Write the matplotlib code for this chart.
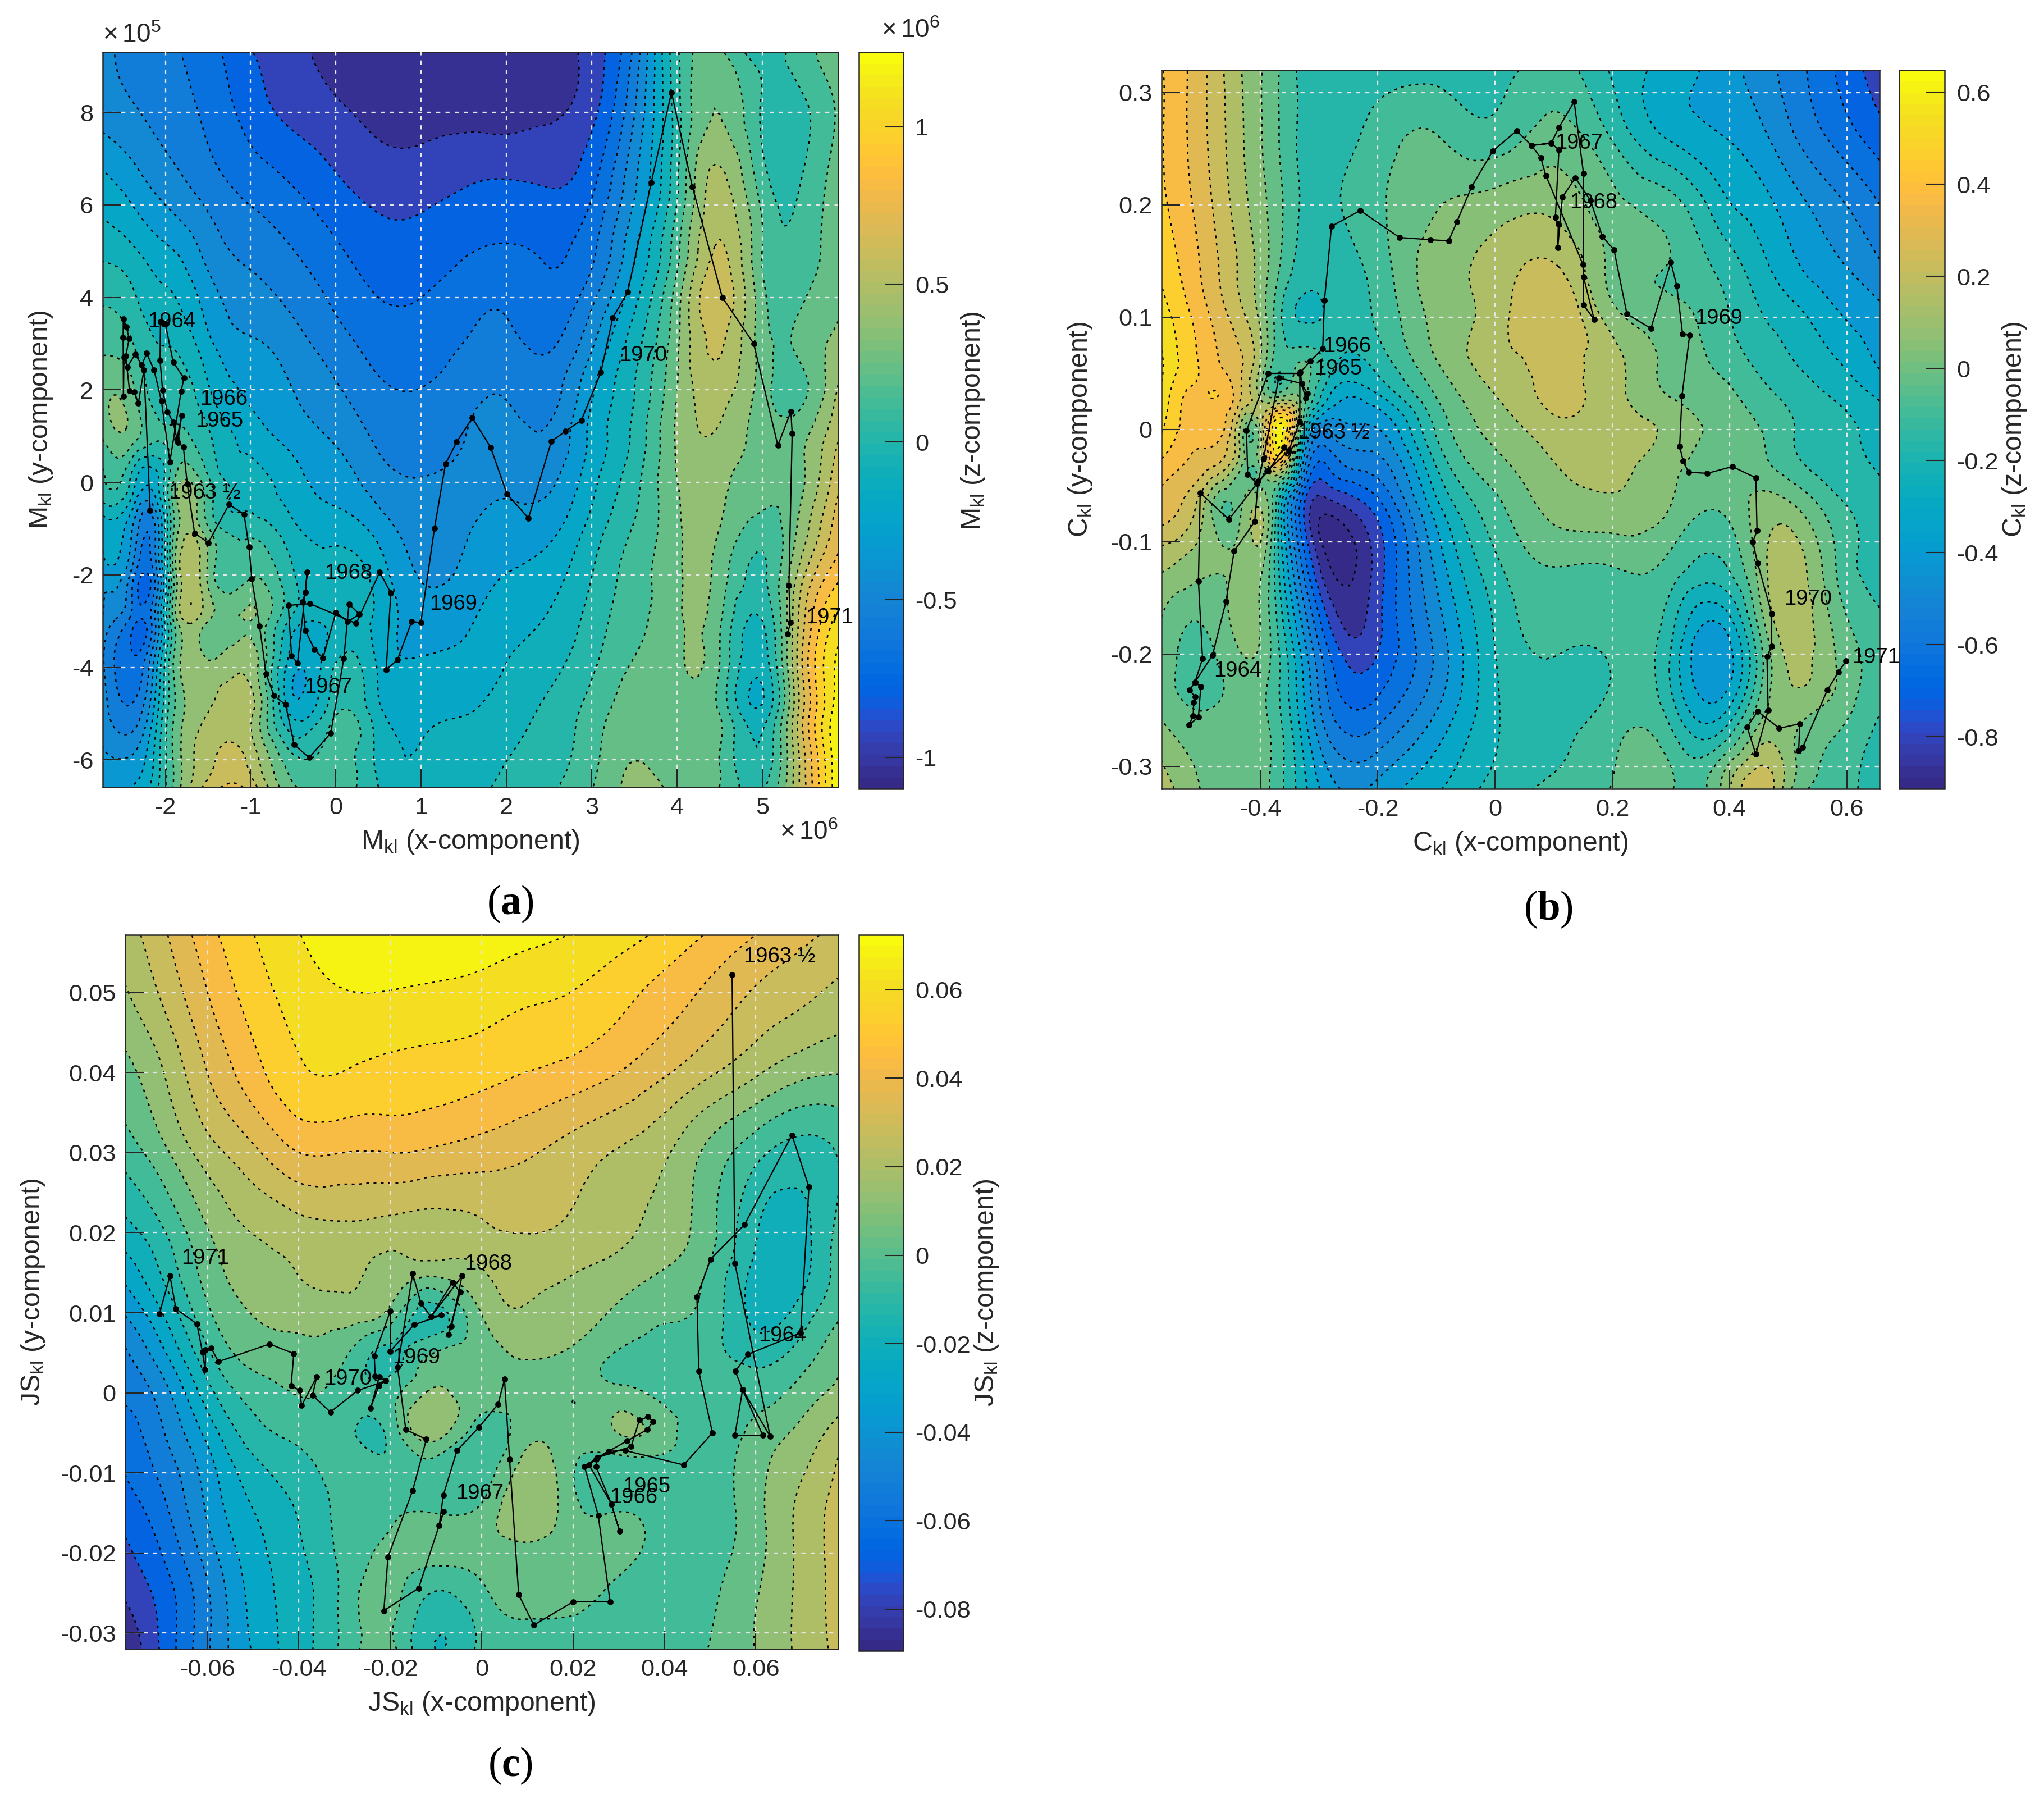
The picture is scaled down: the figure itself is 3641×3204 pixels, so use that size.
import numpy as np
import matplotlib
matplotlib.use("Agg")
import matplotlib.pyplot as plt
import matplotlib.tri as mtri
from matplotlib.cm import ScalarMappable
from matplotlib.colors import ListedColormap, Normalize

plt.rcParams["font.family"] = ["Liberation Sans", "DejaVu Sans"]
plt.rcParams["mathtext.fontset"] = "custom"
plt.rcParams["mathtext.rm"] = "Liberation Sans"
plt.rcParams["mathtext.bf"] = "Liberation Serif:bold"
plt.rcParams["mathtext.default"] = "rm"

W, H = 3641, 3204
DARK = "#262626"

# parula, 64 steps
parula = ListedColormap([
    (0.2081, 0.1663, 0.5292), (0.2116, 0.1898, 0.5777), (0.2123, 0.2138, 0.6270), (0.2081, 0.2386, 0.6771),
    (0.1959, 0.2645, 0.7279), (0.1707, 0.2919, 0.7792), (0.1253, 0.3242, 0.8303), (0.0591, 0.3598, 0.8683),
    (0.0117, 0.3875, 0.8820), (0.0060, 0.4086, 0.8828), (0.0165, 0.4266, 0.8786), (0.0329, 0.4430, 0.8720),
    (0.0498, 0.4586, 0.8641), (0.0629, 0.4737, 0.8554), (0.0723, 0.4887, 0.8467), (0.0779, 0.5040, 0.8384),
    (0.0793, 0.5200, 0.8312), (0.0749, 0.5375, 0.8263), (0.0641, 0.5570, 0.8240), (0.0488, 0.5772, 0.8228),
    (0.0343, 0.5966, 0.8199), (0.0265, 0.6137, 0.8135), (0.0239, 0.6287, 0.8038), (0.0231, 0.6418, 0.7913),
    (0.0228, 0.6535, 0.7768), (0.0267, 0.6642, 0.7607), (0.0384, 0.6743, 0.7436), (0.0590, 0.6838, 0.7254),
    (0.0843, 0.6928, 0.7062), (0.1133, 0.7015, 0.6859), (0.1453, 0.7098, 0.6646), (0.1801, 0.7177, 0.6424),
    (0.2178, 0.7250, 0.6193), (0.2586, 0.7317, 0.5954), (0.3022, 0.7376, 0.5712), (0.3482, 0.7424, 0.5473),
    (0.3953, 0.7459, 0.5244), (0.4420, 0.7481, 0.5033), (0.4871, 0.7491, 0.4840), (0.5300, 0.7491, 0.4661),
    (0.5709, 0.7485, 0.4494), (0.6099, 0.7473, 0.4337), (0.6473, 0.7456, 0.4188), (0.6834, 0.7435, 0.4044),
    (0.7184, 0.7411, 0.3905), (0.7525, 0.7384, 0.3768), (0.7858, 0.7356, 0.3633), (0.8185, 0.7327, 0.3498),
    (0.8507, 0.7299, 0.3360), (0.8824, 0.7274, 0.3217), (0.9139, 0.7258, 0.3063), (0.9450, 0.7261, 0.2886),
    (0.9739, 0.7314, 0.2666), (0.9938, 0.7455, 0.2403), (0.9990, 0.7653, 0.2164), (0.9955, 0.7861, 0.1967),
    (0.9880, 0.8066, 0.1794), (0.9789, 0.8271, 0.1633), (0.9697, 0.8481, 0.1475), (0.9626, 0.8705, 0.1309),
    (0.9589, 0.8949, 0.1132), (0.9598, 0.9218, 0.0948), (0.9661, 0.9514, 0.0755), (0.9763, 0.9831, 0.0538)])

# panel (a): x in 1e6, y in 1e5, z in 1e6
a_xgrid = [-2.734, -2.4, -2.15, -1.9, -1.5, -1, -0.5, 0, 0.5, 1, 1.5, 2, 2.5, 3, 3.5, 4, 4.5, 5, 5.4, 5.887]
a_ygrid = [9.3, 8, 6.5, 5, 4, 3, 2, 1, 0, -1, -2, -3, -4, -5, -6, -6.59]
a_z = [
    [-.5, -.54, -.58, -.62, -.7, -.86, -.94, -1.05, -1.09, -1.09, -1.09, -1.05, -1.05, -.93, -.6, .05, .2, 0, .12, .22],
    [-.45, -.5, -.54, -.58, -.66, -.8, -.9, -.96, -1.02, -1.03, -1.02, -1.03, -1.0, -.9, -.52, .02, .3, .05, .02, .2],
    [-.25, -.34, -.42, -.48, -.58, -.68, -.76, -.85, -.92, -.92, -.88, -.86, -.88, -.78, -.42, .05, .45, .12, .05, .25],
    [-.08, -.14, -.22, -.28, -.44, -.55, -.63, -.73, -.81, -.81, -.76, -.74, -.76, -.66, -.3, .15, .55, .18, .1, .25],
    [.05, -.02, -.12, -.16, -.34, -.47, -.55, -.66, -.75, -.75, -.69, -.66, -.72, -.55, -.2, .25, .62, .22, .15, .28],
    [.15, .08, -.04, -.06, -.25, -.38, -.47, -.58, -.68, -.69, -.63, -.6, -.65, -.42, -.1, .28, .55, .24, .2, .33],
    [.27, .22, .03, .02, -.15, -.3, -.4, -.5, -.61, -.63, -.57, -.53, -.57, -.3, -.05, .3, .47, .24, .14, .43],
    [.2, .25, .1, .1, -.03, -.22, -.33, -.42, -.54, -.57, -.52, -.47, -.5, -.25, -.02, .32, .4, .25, .25, .52],
    [.05, -.08, -.25, .2, .1, -.1, -.24, -.33, -.46, -.51, -.47, -.42, -.42, -.2, .03, .3, .33, .22, .25, .62],
    [-.25, -.38, -.58, .18, .2, .02, -.14, -.22, -.33, -.46, -.42, -.35, -.32, -.12, .08, .28, .3, .13, .3, .72],
    [-.35, -.55, -.68, .2, .28, .17, -.04, -.1, -.22, -.41, -.37, -.28, -.22, -.05, .13, .28, .25, .05, .42, .85],
    [-.42, -.68, -.6, .2, .3, .3, -.1, -.12, -.2, -.33, -.3, -.22, -.15, 0, .15, .28, .2, -.05, .5, 1.05],
    [-.5, -.72, -.42, .2, .32, .38, -.25, -.03, -.18, -.26, -.25, -.16, -.08, .05, .2, .28, .18, -.12, .52, 1.15],
    [-.45, -.6, -.3, .18, .42, .45, -.2, .06, -.13, -.2, -.17, -.1, -.02, .12, .24, .25, .18, -.12, .5, 1.2],
    [-.38, -.38, -.18, .2, .5, .5, .1, .12, -.08, -.15, -.1, -.05, .02, .15, .3, .25, .18, -.02, .48, 1.22],
    [-.36, -.28, -.13, .2, .58, .6, .2, .13, -.05, -.1, -.08, -.02, .05, .18, .33, .28, .18, .05, .48, 1.22],
]
a_path_x = [-2.178, -2.251, -2.317, -2.365, -2.42, -2.464, -2.425, -2.458, -2.493, -2.495, -2.491, -2.486, -2.447,
            -2.354, -2.277, -2.218, -2.132, -2.046, -1.947, -1.815, -1.782, -1.908, -2.002, -2.057, -2.062, -2.033,
            -1.974, -1.908, -1.864, -1.809, -1.853, -1.789, -1.743, -1.657, -1.496, -1.254, -1.078, -1.019, -.987,
            -.895, -.819, -.727, -.589, -.49, -.314, -.061, .092, .153, .275, .138, 0, -.153, -.252, -.36, -.39,
            -.36, -.337, -.36, -.451, -.52, -.559, -.306, .237, .513, .643, .589, .719, .888, .995, 1.155, 1.285,
            1.415, 1.599, 1.813, 2.005, 2.257, 2.525, 2.686, 2.877, 3.106, 3.244, 3.42, 3.696, 3.933, 4.178, 4.529,
            4.897, 5.18, 5.333, 5.348, 5.31, 5.325, 5.295]
a_path_y = [-.606, 2.432, 1.713, 1.96, 1.98, 2.727, 3.111, 3.366, 3.535, 3.131, 1.859, 2.707, 2.493, 2.768, 2.537,
            2.788, 2.424, 1.758, .444, 1.972, 2.255, 2.598, 3.442, 3.475, 2.634, 1.992, 1.523, 1.301, .937, 1.442,
            .861, .768, -.04, -1.099, -1.305, -.477, -.687, -1.394, -2.09, -3.11, -4.14, -4.61, -4.81, -5.67, -5.95,
            -5.42, -3.81, -2.63, -2.85, -3.01, -2.81, -3.8, -3.61, -3.2, -2.58, -2.38, -1.94, -2.38, -3.91, -3.75,
            -2.66, -2.62, -3.05, -1.94, -2.39, -4.05, -3.84, -3.01, -3.03, -.99, .405, .873, 1.392, .759, -.253,
            -.772, .886, 1.101, 1.342, 2.38, 3.557, 4.114, 6.481, 8.43, 6.392, 4, 3, .797, 1.532, 1.063, -2.228,
            -3.038, -3.278]
a_years = ["1964", "1966", "1965", "1963 ½", "1968", "1969", "1967", "1970", "1971"]
a_year_x = [-1.928, -1.316, -1.37, -1.538, .145, 1.377, -.092, 3.604, 5.784]
a_year_y = [3.468, 1.797, 1.329, -.228, -1.962, -2.633, -4.43, 2.747, -2.924]

# panel (b)
b_xgrid = [-.569, -.5, -.44, -.4, -.37, -.33, -.28, -.2, -.1, 0, .1, .2, .3, .38, .45, .5, .58, .656]
b_ygrid = [.32, .26, .2, .14, .1, .06, .03, 0, -.03, -.07, -.12, -.17, -.22, -.27, -.32]
b_z = [
    [.42, .28, .12, .03, -.05, -.15, -.17, -.17, -.17, -.17, -.1, -.22, -.32, -.4, -.48, -.55, -.68, -.8],
    [.42, .28, .13, .03, -.05, -.15, -.17, -.1, -.05, -.1, -.02, -.14, -.3, -.36, -.42, -.5, -.62, -.72],
    [.43, .3, .15, .05, -.03, -.14, -.15, -.07, .02, .06, .08, -.03, -.1, -.25, -.33, -.4, -.5, -.6],
    [.48, .33, .18, .07, -.05, -.17, -.18, -.1, .07, .13, .2, 0, -.06, -.14, -.25, -.33, -.42, -.5],
    [.53, .37, .22, .08, -.1, -.22, -.2, -.12, .05, .14, .25, .06, -.03, -.1, -.2, -.25, -.35, -.42],
    [.58, .4, .28, .1, -.1, -.05, -.18, -.18, .02, .14, .2, .13, 0, -.07, -.15, -.2, -.28, -.38],
    [.55, .4, .3, .08, 0, 0, -.3, -.3, -.05, .1, .2, .13, .02, -.02, -.1, -.15, -.22, -.3],
    [.5, .38, .15, .1, .6, -.1, -.5, -.45, -.12, .05, .15, .15, .08, 0, -.05, -.12, -.18, -.25],
    [.4, .3, .1, .05, .35, -.4, -.65, -.55, -.2, 0, .1, .12, .05, 0, -.03, -.1, -.18, -.22],
    [.3, .12, -.02, .1, -.2, -.72, -.88, -.72, -.32, -.08, .05, .08, .02, -.05, .05, .05, -.1, -.18],
    [.12, .05, .05, .05, -.2, -.6, -.92, -.8, -.42, -.15, -.05, -.05, -.08, -.15, .05, .15, -.05, -.15],
    [.02, -.05, .05, .02, -.15, -.45, -.78, -.78, -.48, -.2, -.1, -.1, -.18, -.36, -.03, .15, 0, -.12],
    [-.02, -.08, -.02, -.02, -.12, -.35, -.65, -.72, -.5, -.22, -.15, -.13, -.22, -.43, -.1, .1, .03, -.1],
    [.05, -.02, 0, -.02, -.1, -.3, -.55, -.58, -.4, -.22, -.15, -.08, -.12, -.22, .05, .05, -.05, -.15],
    [.15, .02, 0, -.02, -.1, -.25, -.42, -.42, -.3, -.18, -.12, -.05, -.05, 0, .25, .05, -.1, -.15],
]
b_path_x = [-.36, -.387, -.406, -.422, -.424, -.387, -.333, -.333, -.352, -.389, -.406, -.454, -.503, -.506, -.499,
            -.512, -.521, -.512, -.514, -.515, -.522, -.506, -.502, -.512, -.482, -.459, -.445, -.41, -.404, -.395,
            -.369, -.33, -.32, -.323, -.33, -.332, -.315, -.294, -.291, -.279, -.23, -.163, -.11, -.079, -.065,
            -.04, -.004, .037, .062, .078, .087, .15, .151, .169, .151, .151, .135, .109, .096, .062, .096, .109,
            .103, .108, .107, .115, .137, .163, .183, .203, .225, .266, .3, .31, .32, .332, .319, .315, .321, .33,
            .362, .405, .445, .447, .44, .448, .472, .472, .464, .466, .445, .43, .448, .485, .52, .518, .525, .567,
            .586, .599]
b_path_y = [-.016, -.037, -.048, -.04, -.001, .05, .05, .007, -.019, -.037, -.048, -.08, -.0565, -.135, -.204, -.225,
            -.232, -.238, -.243, -.255, -.263, -.256, -.229, -.225, -.201, -.153, -.108, -.082, -.046, -.026, .046,
            .041, .032, .028, .041, .051, .061, .072, .115, .181, .195, .171, .169, .168, .185, .216, .248, .266,
            .253, .242, .226, .147, .136, .098, .111, .228, .292, .269, .255, .253, .255, .249, .189, .183, .162,
            .207, .224, .204, .172, .16, .103, .09, .149, .128, .085, .084, .03, -.015, -.028, -.038, -.039, -.033,
            -.043, -.09, -.1, -.119, -.164, -.193, -.202, -.25, -.289, -.265, -.251, -.266, -.262, -.286, -.283,
            -.232, -.216, -.206]
b_years = ["1967", "1968", "1969", "1970", "1971", "1964", "1966", "1965", "1963 ½"]
b_year_x = [.143, .168, .382, .534, .65, -.439, -.252, -.268, -.275]
b_year_y = [.255, .202, .099, -.151, -.203, -.215, .074, .054, -.003]

# panel (c)
c_xgrid = [-.078, -.07, -.06, -.05, -.04, -.03, -.02, -.012, 0, .01, .02, .03, .04, .05, .06, .07, .078]
c_ygrid = [.0572, .05, .04, .03, .02, .015, .01, .005, 0, -.005, -.01, -.015, -.02, -.025, -.032]
c_z = [
    [.02, .03, .045, .056, .064, .07, .072, .072, .07, .067, .064, .06, .054, .047, .04, .034, .03],
    [.015, .025, .04, .052, .06, .064, .064, .063, .061, .058, .056, .051, .045, .038, .031, .026, .022],
    [.005, .015, .032, .045, .055, .056, .054, .053, .051, .048, .045, .04, .033, .025, .017, .01, .008],
    [-.005, .005, .02, .03, .04, .04, .04, .039, .036, .033, .028, .023, .017, .005, -.006, -.012, -.008],
    [-.02, -.01, .007, .016, .02, .022, .02, .02, .022, .024, .022, .018, .012, .002, -.016, -.019, -.006],
    [-.03, -.016, .003, .012, .016, .018, .012, .01, .015, .018, .016, .012, .007, -.002, -.019, -.019, -.005],
    [-.04, -.025, -.002, .008, .011, .012, .005, -.012, .008, .015, .012, .006, .001, -.004, -.019, -.013, -.002],
    [-.05, -.035, -.01, .003, .005, .001, -.011, -.002, .005, .009, .006, -.001, -.004, -.006, -.012, -.005, .005],
    [-.055, -.045, -.02, -.005, 0, -.003, -.004, .008, .003, .003, 0, .002, -.003, -.003, -.004, .003, .01],
    [-.062, -.05, -.03, -.012, -.006, -.006, -.006, .012, -.005, .005, .002, .008, .003, -.005, .002, .01, .02],
    [-.065, -.055, -.037, -.02, -.012, -.006, -.006, -.006, -.005, .012, 0, -.007, -.006, -.005, .005, .015, .025],
    [-.07, -.06, -.04, -.025, -.016, -.006, -.002, 0, .002, .015, .002, 0, -.005, -.005, .005, .018, .027],
    [-.075, -.065, -.045, -.028, -.018, -.006, .002, .004, .003, .005, .003, .003, -.005, -.004, .005, .018, .027],
    [-.08, -.07, -.05, -.03, -.02, -.006, .003, -.008, -.002, .002, .003, -.003, -.006, -.002, .007, .018, .027],
    [-.089, -.072, -.05, -.032, -.02, -.006, .002, -.015, -.006, -.004, -.008, -.006, -.006, 0, .008, .018, .026],
]
c_path_x = [.0548, .0554, .0631, .0571, .0554, .0615, .0571, .0555, .0582, .0698, .0716, .0679, .0575, .0501, .0471,
            .0475, .0505, .0442, .0314, .0277, .025, .0235, .0284, .0302, .0284, .025, .0253, .0318, .0362, .0375,
            .0364, .0345, .0327, .0253, .0225, .0255, .0281, .02, .0114, .0081, .0061, .005, .0036, -.0006, -.0054,
            -.0084, -.0093, -.0083, -.0138, -.0214, -.0205, -.0151, -.0121, -.0166, -.0184, -.0151, -.0133, -.0111,
            -.0064, -.0047, -.0073, -.0066, -.0043, -.0111, -.0088, -.0148, -.02, -.02, -.0235, -.0233, -.0224,
            -.0243, -.0225, -.021, -.0271, -.0331, -.037, -.0361, -.0394, -.0398, -.0417, -.0411, -.0464, -.0576,
            -.0592, -.0604, -.0605, -.0611, -.0623, -.0669, -.0682, -.0705]
c_path_y = [.0522, .0162, -.0054, .0004, -.0053, -.0053, .0004, .0027, .0048, .0075, .0257, .0322, .021, .0167, .012,
            .0027, -.005, -.009, -.0072, -.0073, -.0083, -.009, -.0139, -.0173, -.0139, -.0092, -.0081, -.006, -.0046,
            -.0036, -.003, -.0034, -.0067, -.0081, -.0092, -.0153, -.0261, -.0261, -.029, -.0252, -.0083, .0017,
            -.0014, -.0043, -.0072, -.0128, -.0166, -.0148, -.0244, -.0272, -.0205, -.0122, -.0058, -.0046, .0032,
            .0149, .0112, .0095, .0138, .0126, .0073, .0083, .0146, .0095, .0097, .0085, .0052, .0102, .0046, .0021,
            .002, -.0019, .0009, .0015, .0003, -.0024, -.0003, .002, -.0016, .0003, .0009, .0049, .0061, .0039, .0056,
            .0054, .0029, .0051, .0086, .0105, .0146, .0099]
c_years = ["1963 ½", "1971", "1968", "1969", "1970", "1967", "1965", "1966", "1964"]
c_year_x = [.0652, -.0605, .0014, -.0143, -.0293, -.0004, .0361, .0332, .0658]
c_year_y = [.0545, .0168, .0161, .0044, .0017, -.0126, -.0117, -.0131, .0071]


def panel_axes(fig, x0, y0, x1, y1):
    return fig.add_axes([x0 / W, 1 - y1 / H, (x1 - x0) / W, (y1 - y0) / H])


def draw_panel(fig, box, cbox, xgrid, ygrid, z, zlim, xlim, ylim, xticks, yticks, zticks, px, py,
               years, yx, yy, name, ypad):
    ax = panel_axes(fig, *box)
    X, Y = np.meshgrid(xgrid, ygrid)
    tri = mtri.Triangulation(X.ravel(), Y.ravel())
    zvals = np.array(z, dtype=float).ravel()
    interp = mtri.CubicTriInterpolator(tri, zvals, kind="min_E")
    tf, zf = mtri.UniformTriRefiner(tri).refine_field(zvals, triinterpolator=interp, subdiv=3)

    norm = Normalize(*zlim)
    levels = np.linspace(zlim[0], zlim[1], 21)
    ax.tricontourf(tf, zf, levels=levels, cmap=parula, norm=norm, extend="both")
    ax.tricontour(tf, zf, levels=levels, colors="black", linewidths=0.6, linestyles=[(0, (2.0, 3.2))])

    ax.set_xlim(xlim)
    ax.set_ylim(ylim)
    ax.set_xticks(xticks)
    ax.set_yticks(yticks)
    ax.set_xticklabels(["{:g}".format(t) for t in xticks])
    ax.set_yticklabels(["{:g}".format(t) for t in yticks])
    ax.tick_params(direction="in", length=8, width=0.5, labelsize=10.4, colors=DARK, pad=4,
                   top=False, right=False)
    ax.grid(True, color="#e6e6e6", linestyle=(0, (3.2, 4.0)), linewidth=0.55, zorder=3)
    ax.set_axisbelow(False)
    for spine in ax.spines.values():
        spine.set_linewidth(0.6)
        spine.set_color(DARK)

    ax.plot(px, py, "-", color="black", linewidth=0.55, marker="o", markersize=1.6, zorder=5)
    for label, lx, ly in zip(years, yx, yy):
        ax.text(lx, ly, label, fontsize=9.2, ha="center", va="center", color="black", zorder=6, clip_on=False)

    ax.set_xlabel(r"%s$_{\mathrm{kl}}$ (x-component)" % name, fontsize=11.6, color=DARK, labelpad=4)
    ax.set_ylabel(r"%s$_{\mathrm{kl}}$ (y-component)" % name, fontsize=11.6, color=DARK, labelpad=ypad)

    cax = panel_axes(fig, *cbox)
    cb = fig.colorbar(ScalarMappable(norm=norm, cmap=parula), cax=cax)
    cb.set_ticks(zticks)
    cb.set_ticklabels(["{:g}".format(t) for t in zticks])
    cb.ax.tick_params(direction="in", length=8, width=0.5, labelsize=10.4, colors=DARK, pad=5)
    cb.outline.set_linewidth(0.6)
    cb.outline.set_edgecolor(DARK)
    cb.set_label(r"%s$_{\mathrm{kl}}$ (z-component)" % name, fontsize=11.6, color=DARK, labelpad=1)
    return ax, cax


fig = plt.figure(figsize=(W / 300, H / 300), dpi=300)

ax_a, cax_a = draw_panel(fig, (183, 93, 1493, 1402), (1530, 93, 1609, 1405), a_xgrid, a_ygrid, a_z, (-1.10, 1.236),
                         (-2.734, 5.887), (-6.59, 9.3), [-2, -1, 0, 1, 2, 3, 4, 5], [-6, -4, -2, 0, 2, 4, 6, 8],
                         [-1, -.5, 0, .5, 1], a_path_x, a_path_y, a_years, a_year_x, a_year_y, "M", 7.5)
ax_b, cax_b = draw_panel(fig, (2069, 125, 3348, 1405), (3383, 125, 3464, 1405), b_xgrid, b_ygrid, b_z, (-.913, .648),
                         (-.569, .656), (-.32, .32), [-.4, -.2, 0, .2, .4, .6], [-.3, -.2, -.1, 0, .1, .2, .3],
                         [-.8, -.6, -.4, -.2, 0, .2, .4, .6], b_path_x, b_path_y, b_years, b_year_x, b_year_y, "C", 7)
ax_c, cax_c = draw_panel(fig, (223, 1665, 1493, 2937), (1530, 1665, 1609, 2940), c_xgrid, c_ygrid, c_z, (-.0894, .0724),
                         (-.078, .078), (-.032, .0572), [-.06, -.04, -.02, 0, .02, .04, .06],
                         [-.03, -.02, -.01, 0, .01, .02, .03, .04, .05],
                         [-.08, -.06, -.04, -.02, 0, .02, .04, .06], c_path_x, c_path_y, c_years, c_year_x, c_year_y,
                         "JS", 6)

# axis multipliers
ax_a.text(0.0, 1.006, r"$\times\,10^{5}$", transform=ax_a.transAxes, fontsize=11, color=DARK, ha="left", va="bottom")
ax_a.text(1.0, -0.045, r"$\times\,10^{6}$", transform=ax_a.transAxes, fontsize=11, color=DARK, ha="right", va="top")
cax_a.text(0.5, 1.012, r"$\times\,10^{6}$", transform=cax_a.transAxes, fontsize=11, color=DARK, ha="left", va="bottom")

# panel letters
for letter, cx, cy in [("a", 909, 1610), ("b", 2758, 1620), ("c", 909, 3145)]:
    fig.text(cx / W, 1 - cy / H, r"($\mathbf{%s}$)" % letter, fontsize=17.5, ha="center", va="center",
             family="Liberation Serif", color="black")

fig.savefig("out.png", dpi=300)
